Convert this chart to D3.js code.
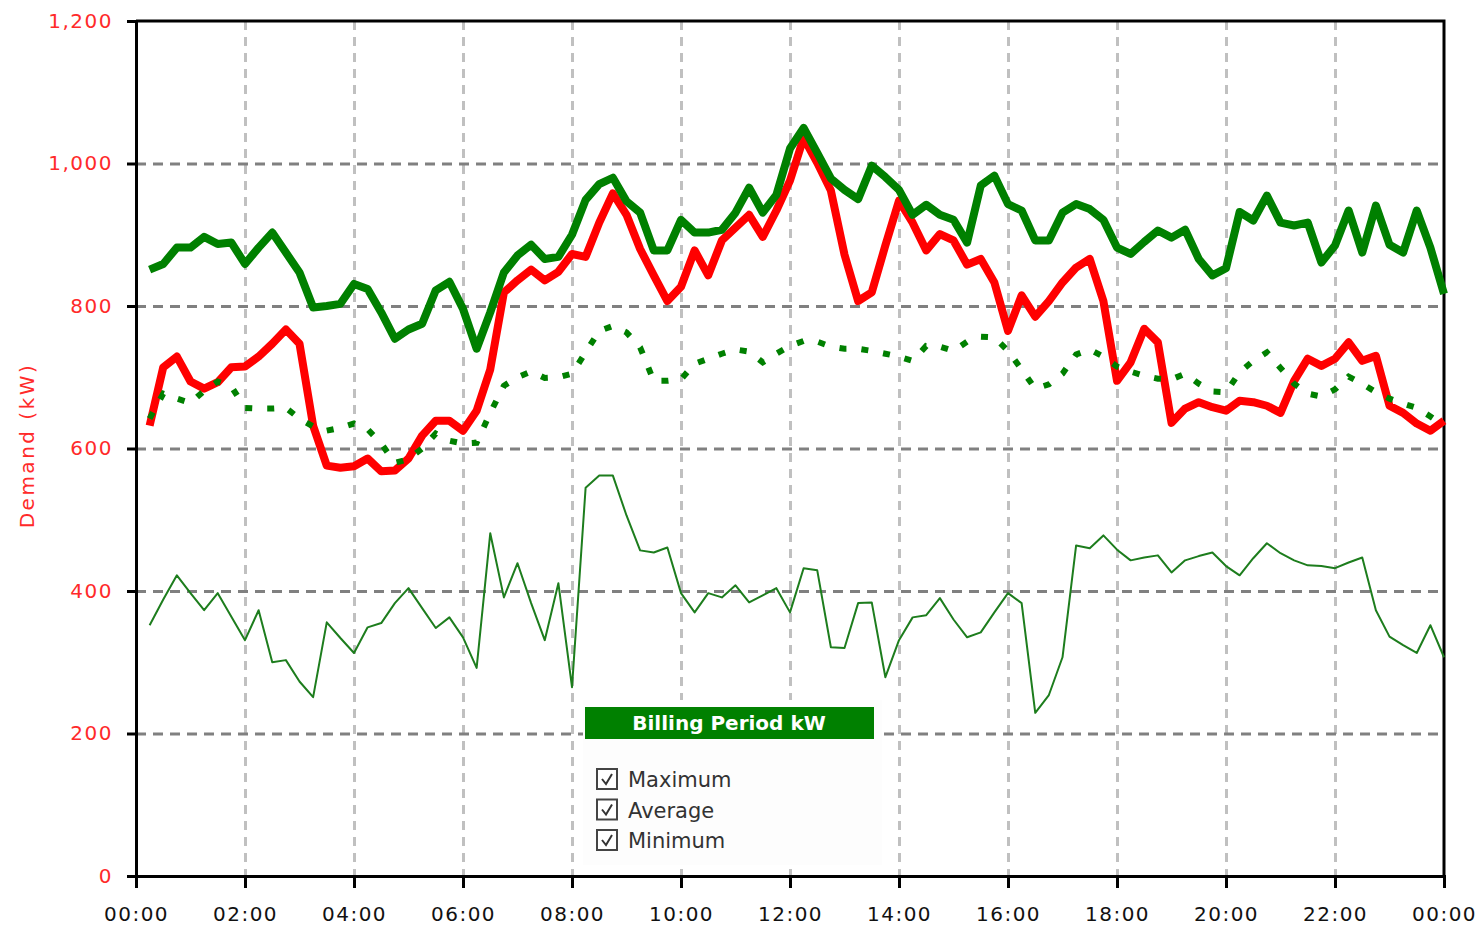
<!DOCTYPE html>
<html>
<head>
<meta charset="utf-8">
<script src="https://cdn.jsdelivr.net/npm/d3@7"></script>
<style>
  body { margin: 0; background: #fff; }
  svg { display: block; font-family: "DejaVu Sans", Verdana, sans-serif; }
</style>
</head>
<body>
<svg id="chart"></svg>
<script>
// 15-minute interval ending times, 00:15 .. 24:00 (hours)
const hours = d3.range(1, 97).map(i => i * 0.25);

const tickHours = [0, 2, 4, 6, 8, 10, 12, 14, 16, 18, 20, 22, 24];
const tickLabels = ['00:00', '02:00', '04:00', '06:00', '08:00', '10:00', '12:00',
                    '14:00', '16:00', '18:00', '20:00', '22:00', '00:00'];
const yTicks = [0, 200, 400, 600, 800, 1000, 1200];

// today's demand (red)
const demand = [632, 714, 729, 694, 684, 693, 714, 715, 729, 747, 767, 747,
  632, 576, 573, 575, 586, 568, 569, 586, 618, 639, 639, 625,
  653, 711, 819, 836, 851, 836, 848, 873, 869, 917, 958, 928,
  880, 843, 807, 827, 878, 843, 892, 910, 928, 897, 934, 976,
  1036, 1001, 962, 872, 807, 819, 885, 948, 917, 878, 901, 892,
  858, 866, 833, 765, 815, 785, 807, 833, 854, 866, 807, 695,
  721, 768, 749, 636, 656, 665, 658, 653, 667, 665, 660, 650,
  695, 726, 716, 726, 749, 723, 730, 660, 650, 635, 625, 639];

// billing period maximum
const maximum = [851, 859, 882, 882, 897, 887, 889, 859, 882, 903, 875, 847,
  798, 800, 803, 831, 824, 791, 754, 767, 775, 822, 834, 796,
  740, 791, 847, 871, 886, 866, 869, 900, 949, 971, 980, 947,
  931, 878, 878, 921, 903, 903, 907, 931, 966, 931, 956, 1021,
  1050, 1015, 979, 963, 950, 997, 981, 963, 928, 942, 928, 921,
  889, 969, 983, 943, 934, 892, 892, 931, 943, 936, 921, 882,
  873, 890, 906, 896, 907, 866, 843, 853, 932, 920, 955, 917,
  913, 917, 861, 885, 934, 875, 941, 886, 875, 934, 882, 817];

// billing period average
const average = [642, 677, 670, 664, 681, 694, 687, 657, 656, 656, 657, 642,
  631, 625, 629, 635, 627, 607, 580, 585, 600, 621, 611, 607,
  608, 650, 688, 700, 708, 699, 700, 705, 735, 765, 772, 763,
  742, 695, 695, 697, 719, 726, 733, 739, 736, 721, 733, 744,
  751, 750, 743, 740, 740, 737, 733, 729, 723, 744, 743, 737,
  750, 757, 756, 737, 711, 684, 690, 705, 732, 739, 729, 715,
  708, 702, 698, 697, 705, 691, 680, 679, 707, 723, 735, 713,
  691, 677, 673, 683, 701, 691, 679, 670, 663, 657, 645, 632];

// billing period minimum
const minimum = [352, 388, 422, 397, 373, 397, 364, 331, 373, 300, 303, 273,
  251, 356, 334, 313, 349, 355, 383, 404, 376, 348, 363, 335,
  292, 481, 391, 439, 383, 331, 411, 265, 545, 562, 562, 506,
  457, 454, 461, 397, 370, 397, 391, 408, 384, 394, 404, 370,
  432, 429, 321, 320, 383, 384, 279, 331, 363, 366, 390, 360,
  335, 342, 370, 397, 383, 229, 254, 307, 464, 460, 478, 458,
  443, 447, 450, 426, 443, 449, 454, 435, 422, 446, 467, 453,
  443, 436, 435, 432, 440, 447, 373, 336, 324, 313, 352, 307];

const legendTitle = 'Billing Period kW';
const legendItems = ['Maximum', 'Average', 'Minimum'];

const width = 1476, height = 928;
const margin = { top: 21, right: 32, bottom: 52, left: 136 };
const plotW = width - margin.left - margin.right;
const plotH = height - margin.top - margin.bottom;

const svg = d3.select('#chart').attr('width', width).attr('height', height);
const g = svg.append('g').attr('transform', `translate(${margin.left},${margin.top})`);

const x = d3.scaleLinear().domain([0, 24]).range([0, plotW]);
const y = d3.scaleLinear().domain([0, 1200]).range([plotH, 0]);

// vertical grid
g.append('g')
  .attr('class', 'vgrid')
  .call(d3.axisBottom(x).tickValues(tickHours.slice(1, -1)).tickSize(plotH).tickFormat(''))
  .call(s => s.select('.domain').remove())
  .selectAll('line')
  .attr('stroke', '#c0c0c0').attr('stroke-width', 3).attr('stroke-dasharray', '9,7');

// horizontal grid
g.append('g')
  .attr('class', 'hgrid')
  .call(d3.axisLeft(y).tickValues(yTicks.slice(1, -1)).tickSize(-plotW).tickFormat(''))
  .call(s => s.select('.domain').remove())
  .selectAll('line')
  .attr('stroke', '#808080').attr('stroke-width', 3).attr('stroke-dasharray', '10,7');

// frame top + right
g.append('path')
  .attr('d', `M0,0H${plotW}V${plotH}`)
  .attr('fill', 'none').attr('stroke', '#000').attr('stroke-width', 3);

// axes
const yAxis = g.append('g')
  .call(d3.axisLeft(y).tickValues(yTicks).tickSize(9).tickPadding(14).tickFormat(d3.format(',')));
yAxis.select('.domain').attr('stroke', '#000').attr('stroke-width', 3);
yAxis.selectAll('line').attr('stroke', '#000').attr('stroke-width', 3);
yAxis.selectAll('text').attr('fill', '#ff2a2a').attr('font-size', 20).style('letter-spacing', '1.5px')
  .attr('font-family', '"DejaVu Sans", Verdana, sans-serif');

const xAxis = g.append('g')
  .attr('transform', `translate(0,${plotH})`)
  .call(d3.axisBottom(x).tickValues(tickHours).tickSize(12).tickPadding(19)
    .tickFormat((d, i) => tickLabels[i]));
xAxis.select('.domain').attr('stroke', '#000').attr('stroke-width', 3);
xAxis.selectAll('line').attr('stroke', '#000').attr('stroke-width', 3);
xAxis.selectAll('text').attr('fill', '#111').attr('font-size', 20).style('letter-spacing', '1.5px')
  .attr('font-family', '"DejaVu Sans", Verdana, sans-serif');

// y title
svg.append('text')
  .attr('transform', `translate(34,${margin.top + y(600) - 3}) rotate(-90)`)
  .attr('text-anchor', 'middle')
  .attr('fill', '#ff2a2a')
  .attr('font-size', 20)
  .style('letter-spacing', '2.5px')
  .text('Demand (kW)');

const line = d3.line().x((d, i) => x(hours[i])).y(d => y(d));

g.append('path').datum(demand)
  .attr('d', line).attr('fill', 'none').attr('stroke', '#ff0000')
  .attr('stroke-width', 8).attr('stroke-linejoin', 'round');

g.append('path').datum(maximum)
  .attr('d', line).attr('fill', 'none').attr('stroke', '#008000')
  .attr('stroke-width', 8).attr('stroke-linejoin', 'round');

g.append('path').datum(average)
  .attr('d', line).attr('fill', 'none').attr('stroke', '#008000')
  .attr('stroke-width', 6).attr('stroke-dasharray', '7,15');

g.append('path').datum(minimum)
  .attr('d', line).attr('fill', 'none').attr('stroke', '#1d7d1d')
  .attr('stroke-width', 2).attr('stroke-linejoin', 'round');

// legend
const lg = svg.append('g').attr('transform', 'translate(583,700)');
lg.append('rect').attr('width', 299).attr('height', 165).attr('fill', '#fdfdfd');
lg.append('rect').attr('x', 2).attr('y', 7).attr('width', 289).attr('height', 32).attr('fill', '#008000');
lg.append('text')
  .attr('x', 146).attr('y', 30)
  .attr('text-anchor', 'middle')
  .attr('fill', '#fff').attr('font-weight', 'bold').attr('font-size', 20)
  .text(legendTitle);

const item = lg.selectAll('.item').data(legendItems).enter().append('g')
  .attr('class', 'item')
  .attr('transform', (d, i) => `translate(14,${69 + i * 30.5})`);
item.append('rect')
  .attr('width', 20).attr('height', 20)
  .attr('fill', '#fff').attr('stroke', '#444').attr('stroke-width', 2);
item.append('path')
  .attr('d', 'M5,10 L9,15 L15,5')
  .attr('fill', 'none').attr('stroke', '#333').attr('stroke-width', 2);
item.append('text')
  .attr('x', 31).attr('y', 18)
  .attr('fill', '#333').attr('font-size', 21)
  .text(d => d);
</script>
</body>
</html>
